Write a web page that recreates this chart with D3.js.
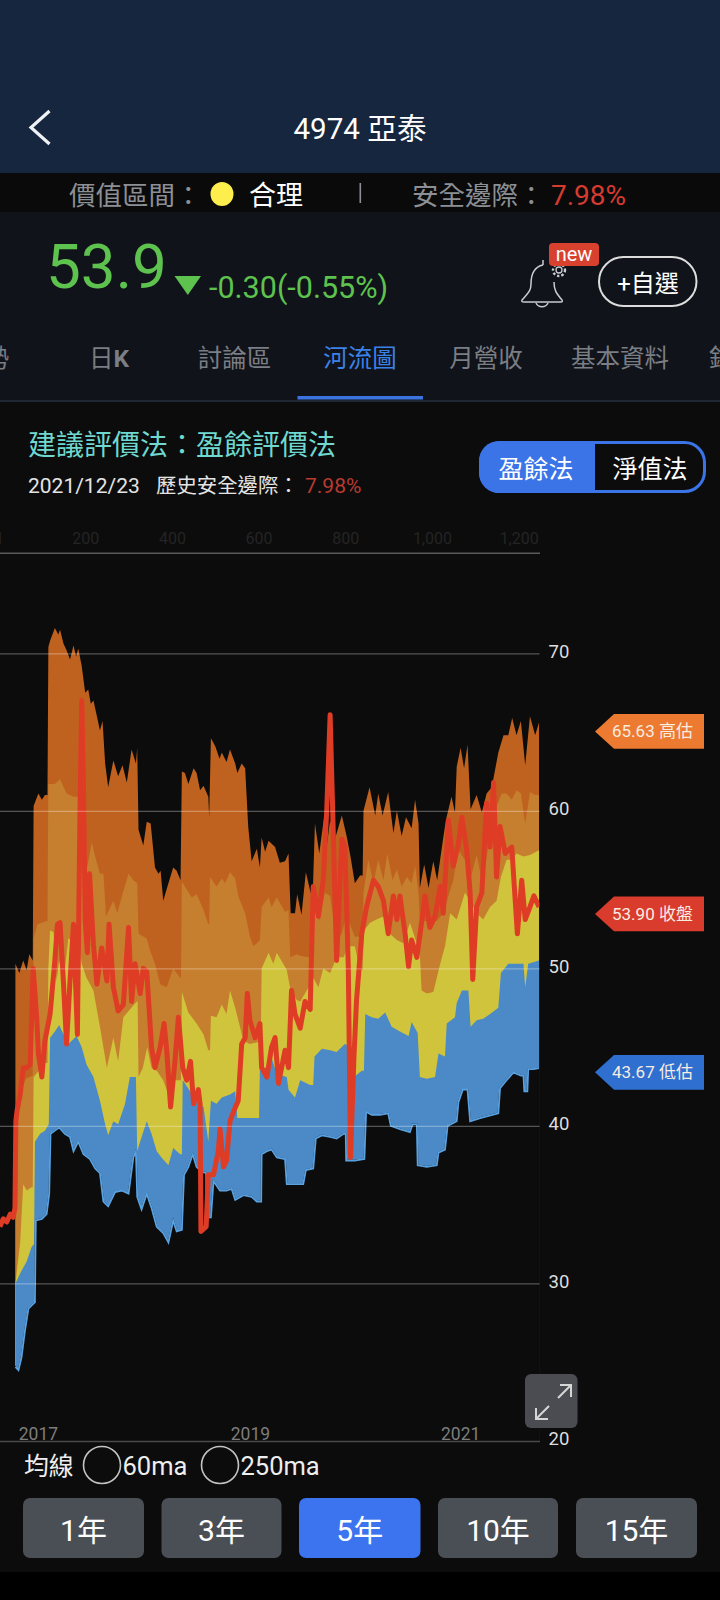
<!DOCTYPE html>
<html lang="zh-Hant"><head><meta charset="utf-8">
<script src="https://cdn.jsdelivr.net/npm/d3@7"></script>
<style>
html,body{margin:0;padding:0;background:#000}
svg{display:block}
text{font-family:Roboto,"Noto Sans CJK TC",sans-serif}
</style></head><body><svg id="c" width="720" height="1600"></svg>
<script>
// Each pair: [trading-day index, price]
const highBand=[[39,50.3],[48,49.7],[57,50.5],[65,49.9],[71,50.9],[79,50.5],[81,60.3],[92,61.1],[100,60.7],[107,61],[113,61],[115,70.4],[119,70.8],[130,71.6],[138,71.2],[142,71.5],[150,70.6],[157,70.2],[165,69.6],[173,70.5],[179,69.8],[184,70.3],[192,69.2],[200,67.5],[207,67.7],[213,66.8],[219,67],[227,66],[234,65.1],[240,65.7],[246,63],[253,61.5],[265,63.2],[276,62.2],[286,62.9],[296,61.8],[307,63.9],[317,63],[320,64],[323,58.8],[334,57.8],[342,59.3],[351,59.2],[361,56.4],[369,56],[374,56.2],[380,54.3],[392,55.4],[403,56.4],[411,56.2],[420,55.6],[423,62.5],[430,62.4],[438,61.7],[450,62.7],[457,62.4],[465,61.3],[473,61.6],[484,60.9],[486,59.6],[490,64.6],[500,64.1],[510,63.3],[515,63.7],[526,63.1],[534,63.9],[546,63],[551,62.4],[561,63],[569,62.7],[576,59],[584,56.8],[596,57.6],[603,56.4],[607,58.3],[615,57.4],[623,58.1],[638,57.7],[649,56.7],[661,56.8],[669,57.3],[674,53.5],[684,53.5],[689,54.7],[699,53.4],[709,56.1],[720,54.8],[725,54.8],[730,59.2],[740,57.3],[751,59.6],[757,57.7],[765,59.4],[776,58.2],[792,59.7],[803,58.4],[812,57.1],[822,55.4],[834,55.9],[840,55.9],[842,60],[856,61.5],[869,59.7],[876,61.1],[886,59.7],[899,61.2],[911,58.6],[919,60],[930,58.4],[940,59.6],[953,58.9],[961,60.7],[969,59.2],[972,55.1],[982,56.6],[992,55.1],[1003,56.8],[1012,55.6],[1025,58.1],[1032,59.4],[1045,60.9],[1053,59.9],[1057,62.8],[1066,64],[1074,62.7],[1082,64.2],[1089,60.1],[1103,61],[1115,59.9],[1126,61.1],[1138,61.5],[1153,63.7],[1165,64.8],[1176,64.8],[1185,65.9],[1195,64.8],[1205,65.7],[1215,62.9],[1226,66],[1238,64.8],[1247,65.63]];
const upperBand=[[39,40],[50,42],[63,43],[79,43.2],[81,51.9],[90,52.8],[100,52.9],[111,53],[113,53],[115,61.7],[130,61.7],[142,62],[157,61.1],[173,60.9],[184,60.9],[188,60.9],[192,56.6],[202,56],[215,58],[223,57.1],[234,56],[242,56],[248,53.3],[265,54.3],[274,53.5],[286,54.7],[300,56],[311,55.6],[320,55.4],[323,52.2],[342,51.9],[350,51.1],[361,50.3],[373,49],[388,48.8],[403,50],[419,49.4],[421,49.4],[423,55.5],[446,54.5],[457,54.7],[473,53.7],[484,52.8],[486,52.8],[488,55.8],[503,55.2],[515,55.7],[523,55.4],[534,56.1],[546,55.7],[553,54.6],[569,53.5],[580,52],[588,51.4],[596,51.6],[603,51.8],[607,53.9],[623,54.5],[630,53.9],[642,54.5],[661,53.6],[669,53.7],[673,50.7],[688,50.9],[696,50.8],[715,50.7],[725,50.7],[726,54.3],[740,53],[753,54.8],[765,54.6],[780,51.8],[792,52.2],[803,53.5],[812,52.7],[822,52],[834,52],[840,52],[842,54.8],[853,56.9],[865,55.4],[876,56.9],[888,55.6],[897,57.3],[909,55.6],[919,56.3],[930,55.2],[942,55.8],[953,55.4],[961,56.5],[969,54.8],[972,53],[1011,53],[1026,53.5],[1038,54.6],[1049,55.6],[1061,57.5],[1076,56.9],[1088,55.6],[1103,57.2],[1115,55.6],[1126,57],[1134,58.5],[1149,60.3],[1161,61.1],[1172,61.1],[1184,60.7],[1195,61.3],[1205,61.1],[1215,59.2],[1226,61.2],[1238,61],[1247,61]];
const middleBand=[[39,30],[50,32.6],[57,36.3],[65,35.9],[76,36.1],[79,36.1],[81,43.1],[96,43.6],[107,44],[113,44],[115,50],[119,52.4],[127,52.3],[134,49.2],[140,50.5],[150,49.2],[161,51.9],[169,51.8],[177,49.2],[184,51.7],[192,50.3],[203,49.4],[219,48.6],[234,46.3],[250,43.7],[265,45.6],[276,44.1],[288,46.9],[300,47.3],[319,47.9],[321,47.9],[323,43.1],[333,43.7],[343,45],[353,43.7],[365,43.5],[380,42.9],[392,42],[403,42.9],[419,42.9],[421,42.9],[423,48.5],[438,47.2],[457,46.5],[473,45.8],[484,44.8],[488,44.8],[490,47],[503,46.9],[515,47.7],[526,47.1],[534,48.6],[546,47.5],[557,46.3],[565,45.4],[580,45.2],[596,45.3],[605,45.4],[607,50],[623,51],[634,50.3],[642,51],[665,49.9],[673,48.7],[688,48],[696,47.9],[711,48.6],[726,49.4],[738,48.8],[749,50],[765,49.7],[780,50.7],[796,50.7],[807,51.4],[822,51.4],[834,49.9],[840,49.9],[843,52.4],[857,52.9],[872,53.1],[888,53.3],[903,52.2],[919,51.8],[934,51.6],[949,52.9],[965,51.6],[971,51.4],[976,48.6],[988,48.4],[1003,48.5],[1019,50.3],[1030,51.4],[1042,53.5],[1057,53.1],[1076,54.8],[1088,54.3],[1103,53.5],[1118,53.1],[1134,53.9],[1149,54.3],[1159,55.8],[1172,56.9],[1184,56.9],[1195,57.3],[1211,57.1],[1226,57.2],[1247,57.5]];
const lowerBand=[[39,30],[53,30.8],[65,31.4],[76,32.3],[82,32.5],[84,39],[96,39.5],[107,39.7],[116,40.1],[119,45.6],[130,46],[140,46.4],[150,45.8],[161,45.2],[169,45.4],[180,45.7],[192,45],[203,43.9],[219,43.1],[234,41.6],[246,40.1],[253,39.4],[265,40.3],[276,40.1],[292,41.4],[303,43.1],[317,43.1],[320,38.4],[330,39.3],[342,40.3],[353,39.5],[365,38.4],[376,38],[392,37.5],[403,38.6],[419,38.2],[423,38.2],[425,42.9],[442,42.2],[457,41.6],[473,41.2],[484,39],[490,41.6],[503,41.4],[515,41.8],[534,42],[546,42.2],[551,40.5],[565,40.5],[580,40.5],[596,40.5],[601,40.5],[603,43.7],[619,43.7],[630,44.3],[642,43.3],[665,43.1],[669,42.3],[684,41.8],[696,42.9],[719,42.6],[726,42.6],[729,44.4],[746,44.9],[765,44.8],[780,44.7],[799,45.2],[815,45],[820,43.1],[838,43.5],[843,43.5],[846,47.1],[861,46.9],[876,46.8],[892,47.2],[907,46.3],[926,46],[946,45.7],[953,46.6],[967,45.9],[972,43.1],[988,43],[1007,43.1],[1015,44.6],[1030,44.4],[1034,46.5],[1053,46.9],[1057,47.8],[1069,48.6],[1084,48.6],[1089,46.3],[1103,46.7],[1118,46.8],[1134,47.1],[1153,47.5],[1159,49.7],[1176,50.3],[1195,50.3],[1211,50.3],[1215,48.8],[1222,50.3],[1247,50.5]];
const lowBand=[[39,24.7],[46,24.5],[53,25.3],[61,27],[69,28.4],[80,28.7],[84,28.8],[86,34],[100,34.1],[111,34.4],[117,35.7],[120,39.5],[130,39.7],[140,39.9],[153,39.5],[165,39.3],[173,38.4],[184,39],[196,38.2],[211,37.9],[223,37.3],[234,37],[242,35.2],[253,34.9],[269,35.8],[284,35.9],[300,35.7],[311,38],[317,38.4],[320,35.5],[330,34.7],[342,35.7],[353,34.8],[365,33.6],[380,33.2],[392,32.6],[403,34],[411,33.3],[423,33.4],[428,36.9],[438,37.4],[448,38.2],[457,37.4],[469,37.1],[479,37],[480,34.2],[490,34.2],[496,36.5],[511,35.9],[526,35.9],[538,36],[546,35.3],[565,35.6],[584,35.5],[596,35.2],[606,35.2],[607,38.2],[619,38.4],[630,38.5],[642,38],[661,37.9],[665,36.3],[680,36.3],[703,36.3],[709,37.2],[726,37.3],[732,39.2],[746,39.4],[765,39.3],[780,39.2],[796,39.5],[801,39.5],[802,37.8],[822,37.8],[844,37.9],[848,40.9],[861,40.7],[880,40.7],[899,40.8],[905,40],[926,39.8],[949,39.6],[955,40.1],[965,40.1],[967,37.5],[988,37.4],[1011,37.5],[1015,38.3],[1030,38.5],[1036,40],[1057,40.3],[1061,41.5],[1071,42.3],[1082,42.3],[1088,40.3],[1111,40.5],[1153,40.8],[1157,42.4],[1172,42.9],[1188,43.4],[1205,43.2],[1211,43.2],[1213,42.2],[1220,42.2],[1222,43.6],[1234,43.6],[1247,43.67]];
const closePrice=[[3,33.6],[11,34.1],[19,33.9],[27,34.4],[34,34.2],[38,34.8],[40,40.3],[43,41],[50,42],[57,43.7],[65,43.7],[73,43.9],[80,50],[88,46.9],[92,44.6],[100,43.1],[107,45.4],[119,47.1],[130,50.5],[136,52.8],[142,52.9],[150,49],[157,45.2],[165,49.2],[173,52.8],[182,45.8],[188,60],[192,67],[196,61.5],[200,53],[205,51],[210,56],[219,51.5],[227,49],[238,51.3],[250,49.2],[255,52.8],[265,48.8],[276,47.3],[288,47.7],[300,52.6],[307,47.9],[315,50.3],[327,48.4],[334,50],[342,49.8],[353,45],[361,43.7],[373,45],[382,46.5],[388,44.8],[397,41.2],[407,44.1],[415,46.9],[425,43.7],[434,42.9],[443,44.1],[450,41.4],[461,42.3],[465,41.4],[467,33.3],[479,33.6],[484,36.9],[496,36.9],[507,38.4],[511,39.8],[519,37.4],[526,37.8],[534,40.3],[542,40.9],[553,41.6],[561,45.2],[569,45.6],[574,48.4],[580,46.7],[592,45.6],[603,46.5],[607,43.7],[619,43.1],[630,45],[638,45.6],[646,42.7],[661,44.8],[669,43.7],[676,48.6],[684,47.1],[696,46.2],[707,47.9],[719,47.4],[726,55.2],[738,53.3],[749,55.6],[757,59.9],[765,66.1],[771,59.9],[780,50.5],[792,58.2],[799,57.8],[807,50],[812,38],[820,44.4],[826,48],[838,52.2],[849,53.9],[865,55.6],[876,55.2],[888,54.3],[899,52.2],[911,54.6],[919,53.1],[926,54.6],[938,52.2],[946,50.1],[953,51.8],[965,50.7],[976,52.9],[984,54.6],[995,52.6],[1007,53.3],[1019,55.2],[1026,53.5],[1038,59.4],[1049,56.5],[1061,57.9],[1069,59.6],[1080,57.5],[1088,54.8],[1094,49.3],[1103,53.9],[1115,54.8],[1126,60.5],[1134,57.7],[1142,61.8],[1149,55.8],[1157,59],[1169,57.3],[1184,57.7],[1197,52.2],[1207,55.6],[1215,53.1],[1226,53.9],[1235,54.6],[1247,53.9]];
const priceTicks=[20,30,40,50,60,70];
const dayTicks=[1,200,400,600,800,1000,1200];
const yearTicks=[[91,"2017"],[580,"2019"],[1065,"2021"]];
const tags=[["65.63 高估",65.63,"#ec7a30"],["53.90 收盤",53.9,"#d93c2c"],["43.67 低估",43.67,"#2f6fd0"]];
const tabs=[["討論區",234.5,"#7a7e85"],["河流圖",360,"#3b82e8"],["月營收",486,"#7a7e85"],["基本資料",620,"#7a7e85"]];
const ranges=[["1年",23,144,0],["3年",161.5,281.5,0],["5年",299,420.5,1],["10年",438,558,0],["15年",576,697,0]];

const BG="#0c0c0c", svg=d3.select("#c");
const rect=(x,y,w,h,f,r)=>svg.append("rect").attr("x",x).attr("y",y).attr("width",w).attr("height",h).attr("fill",f).attr("rx",r||0);
const txt=(s,x,y,size,fill,anchor,weight)=>svg.append("text").text(s).attr("x",x).attr("y",y).attr("font-size",size).attr("fill",fill).attr("text-anchor",anchor||"start").attr("font-weight",weight||400);

rect(0,0,720,1600,"#000");
rect(0,0,720,173,"#17263f");
rect(0,173,720,39,"#0a0a0a");
rect(0,212,720,188,"#11131a");
rect(0,400,720,1172,BG);
rect(0,400,720,2,"#1f2733");

// header
svg.append("path").attr("d","M49.5 111 L31 127.5 L49.5 144").attr("fill","none").attr("stroke","#eef1f6").attr("stroke-width",3.2);
txt("4974 亞泰",360,139,29.6,"#fff","middle");
txt("價值區間：",69,205,26.5,"#8c8f94");
svg.append("ellipse").attr("cx",222).attr("cy",194).attr("rx",11.5).attr("ry",12).attr("fill","#fdee4e");
txt("合理",249,205,27,"#fff");
rect(359.5,183,1.6,20,"#8c8f94");
txt("安全邊際：",412,205,26.5,"#8c8f94");
txt("7.98%",551,205,28,"#d63b30");

// quote row
txt("53.9",46,288,62,"#5ec24e");
svg.append("path").attr("d","M174.5 276 H201 L187.8 295 Z").attr("fill","#5ec24e");
txt("-0.30(-0.55%)",209,298,30.5,"#5ec24e");
svg.append("path").attr("d","M543 265 C533 267 531 275 531 284 C531 291 528 293 522 300 Q521 302 524 302 H561 Q563 302 562 300 C556 293 554 290 554 282 M543 265 V260").attr("fill","none").attr("stroke","#c9cbcf").attr("stroke-width",1.5);
svg.append("path").attr("d","M536 303 A6.5 6 0 0 0 548 303").attr("fill","none").attr("stroke","#c9cbcf").attr("stroke-width",1.5);
svg.append("circle").attr("cx",559).attr("cy",270).attr("r",3).attr("fill","none").attr("stroke","#c9cbcf").attr("stroke-width",1.3);
svg.append("circle").attr("cx",559).attr("cy",270).attr("r",6).attr("fill","none").attr("stroke","#c9cbcf").attr("stroke-width",2.4).attr("stroke-dasharray","2.4 2");
rect(549,243,50,23,"#d9412f",4);
txt("new",574,261,20,"#fff","middle");
rect(599,257,97.5,49,"none",24.5).attr("stroke","#dddddd").attr("stroke-width",2);
txt("+自選",648,292,24,"#fff","middle");

// tabs
txt("勢",9,367,24.5,"#7a7e85","end");
const dayK=txt("日",109,367,24.5,"#7a7e85","middle");
dayK.append("tspan").text("K").attr("font-weight",700);
tabs.forEach(t=>txt(t[0],t[1],367,24.5,t[2],"middle"));
txt("鉅",709,367,24.5,"#7a7e85");
rect(297.5,396,125.5,3.5,"#3b74e0");

// section heading
txt("建議評價法：盈餘評價法",28,455,28,"#6fd8cf");
txt("2021/12/23",28,493,21,"#e4e4e4");
txt("歷史安全邊際：",156,493,20.4,"#e4e4e4");
txt("7.98%",305,493,21,"#b83a30");
rect(480.5,442.5,224,49,BG,20).attr("stroke","#3b74e6").attr("stroke-width",3);
svg.append("path").attr("d","M595 441 H499 A20 20 0 0 0 479 461 V473 A20 20 0 0 0 499 493 H595 Z").attr("fill","#3b74e6");
txt("盈餘法",536,478,25,"#fff","middle");
txt("淨值法",650,478,25,"#fff","middle");

// chart scales
const x=d3.scaleLinear().domain([0,1248]).range([-1.5,539.5]);
const y=d3.scaleLinear().domain([20,70]).range([1441,653.3]);
const defs=svg.append("defs");
defs.append("clipPath").attr("id","plot").append("rect").attr("x",0).attr("y",553).attr("width",539.5).attr("height",888);
const plot=svg.append("g").attr("clip-path","url(#plot)");
const area=d3.area().x(d=>x(d[0])).y1(d=>y(d[1])).y0(y(20));
const bands=[[highBand,"#c0621f"],[upperBand,"#c67f2e"],[middleBand,"#d0c43c"],[lowerBand,"#4b8ac6"]];
bands.forEach(b=>plot.append("path").datum(b[0]).attr("d",area).attr("fill",b[1]));
// the floor of the river: everything under the lowest band is background again
plot.append("path").datum(lowBand).attr("d",area).attr("fill",BG).attr("stroke",BG).attr("stroke-width",1.6);
const line=d3.line().x(d=>x(d[0])).y(d=>y(d[1]));
plot.append("path").datum(lowBand).attr("d",line).attr("fill","none").attr("stroke","#58a2e2").attr("stroke-width",1.8);

// axes
const gridAxis=d3.axisRight(y).tickValues(priceTicks.slice(1)).tickSize(-539.5).tickFormat("");
const gg=svg.append("g").attr("transform","translate(539.5,0)").call(gridAxis);
gg.select(".domain").remove();
gg.selectAll("line").attr("stroke","#fff").attr("stroke-opacity",.3).attr("stroke-width",1.2);

plot.append("path").datum(closePrice).attr("d",line).attr("fill","none").attr("stroke","#df3c26").attr("stroke-width",5).attr("stroke-linejoin","round");

const fontStack='Roboto,"Noto Sans CJK TC",sans-serif';
const topAxis=d3.axisTop(x).tickValues(dayTicks).tickSize(0).tickPadding(9).tickSizeOuter(0).tickFormat(d3.format(","));
const tg=svg.append("g").attr("transform","translate(0,552.7)").call(topAxis);
tg.select(".domain").attr("stroke","#5a5a5a").attr("stroke-width",1.4);
tg.selectAll("text").attr("fill","#242424").attr("font-size",16).attr("font-family",fontStack);

const botAxis=d3.axisTop(x).tickValues(yearTicks.map(d=>d[0])).tickSize(0).tickPadding(1).tickSizeOuter(0).tickFormat((d,i)=>yearTicks[i][1]);
const bg=svg.append("g").attr("transform","translate(0,1441)").call(botAxis);
bg.select(".domain").attr("stroke","#4a4a4a").attr("stroke-width",1.4);
bg.selectAll("text").attr("fill","#7d7d7d").attr("font-size",17.5).attr("font-family",fontStack);

const priceAxis=d3.axisRight(y).tickValues(priceTicks).tickSize(0).tickPadding(9).tickFormat(d3.format("d"));
const pg=svg.append("g").attr("transform","translate(539.5,-2)").call(priceAxis);
pg.select(".domain").remove();
pg.selectAll("text").attr("fill","#dddddd").attr("font-size",18.5).attr("font-family",fontStack);
rect(0,1445,720,127,BG);

// value tags
tags.forEach((t,i)=>{
  const cy=[731.4,913.9,1072.3][i];
  svg.append("path").attr("d",`M595 ${cy} L614 ${cy-17.4} H704 V${cy+17.4} H614 Z`).attr("fill",t[2]);
  txt(t[0],612,cy+6,17,"#f8ebe0");
});

// expand button
rect(525,1374,52.5,54,"#4a4c52",6);
svg.append("path").attr("d","M536 1419 L549 1406 M558 1398 L571 1385 M560 1385 H571 V1397 M536 1408 V1419 H548").attr("fill","none").attr("stroke","#d6d6d6").attr("stroke-width",2);

// moving-average row
txt("均線",24,1475,24.8,"#eee");
svg.append("circle").attr("cx",102).attr("cy",1465).attr("r",18.5).attr("fill","none").attr("stroke","#c4c4c4").attr("stroke-width",1.6);
txt("60ma",122.5,1475,25.5,"#eee");
svg.append("circle").attr("cx",220).attr("cy",1465).attr("r",18.5).attr("fill","none").attr("stroke","#c4c4c4").attr("stroke-width",1.6);
txt("250ma",240.5,1475,25.5,"#eee");

// range buttons
ranges.forEach(r=>{
  rect(r[1],1498,r[2]-r[1],60,r[3]?"#3b74ee":"#4a4e55",7);
  txt(r[0],(r[1]+r[2])/2,1541,30,"#fff","middle");
});
</script></body></html>
